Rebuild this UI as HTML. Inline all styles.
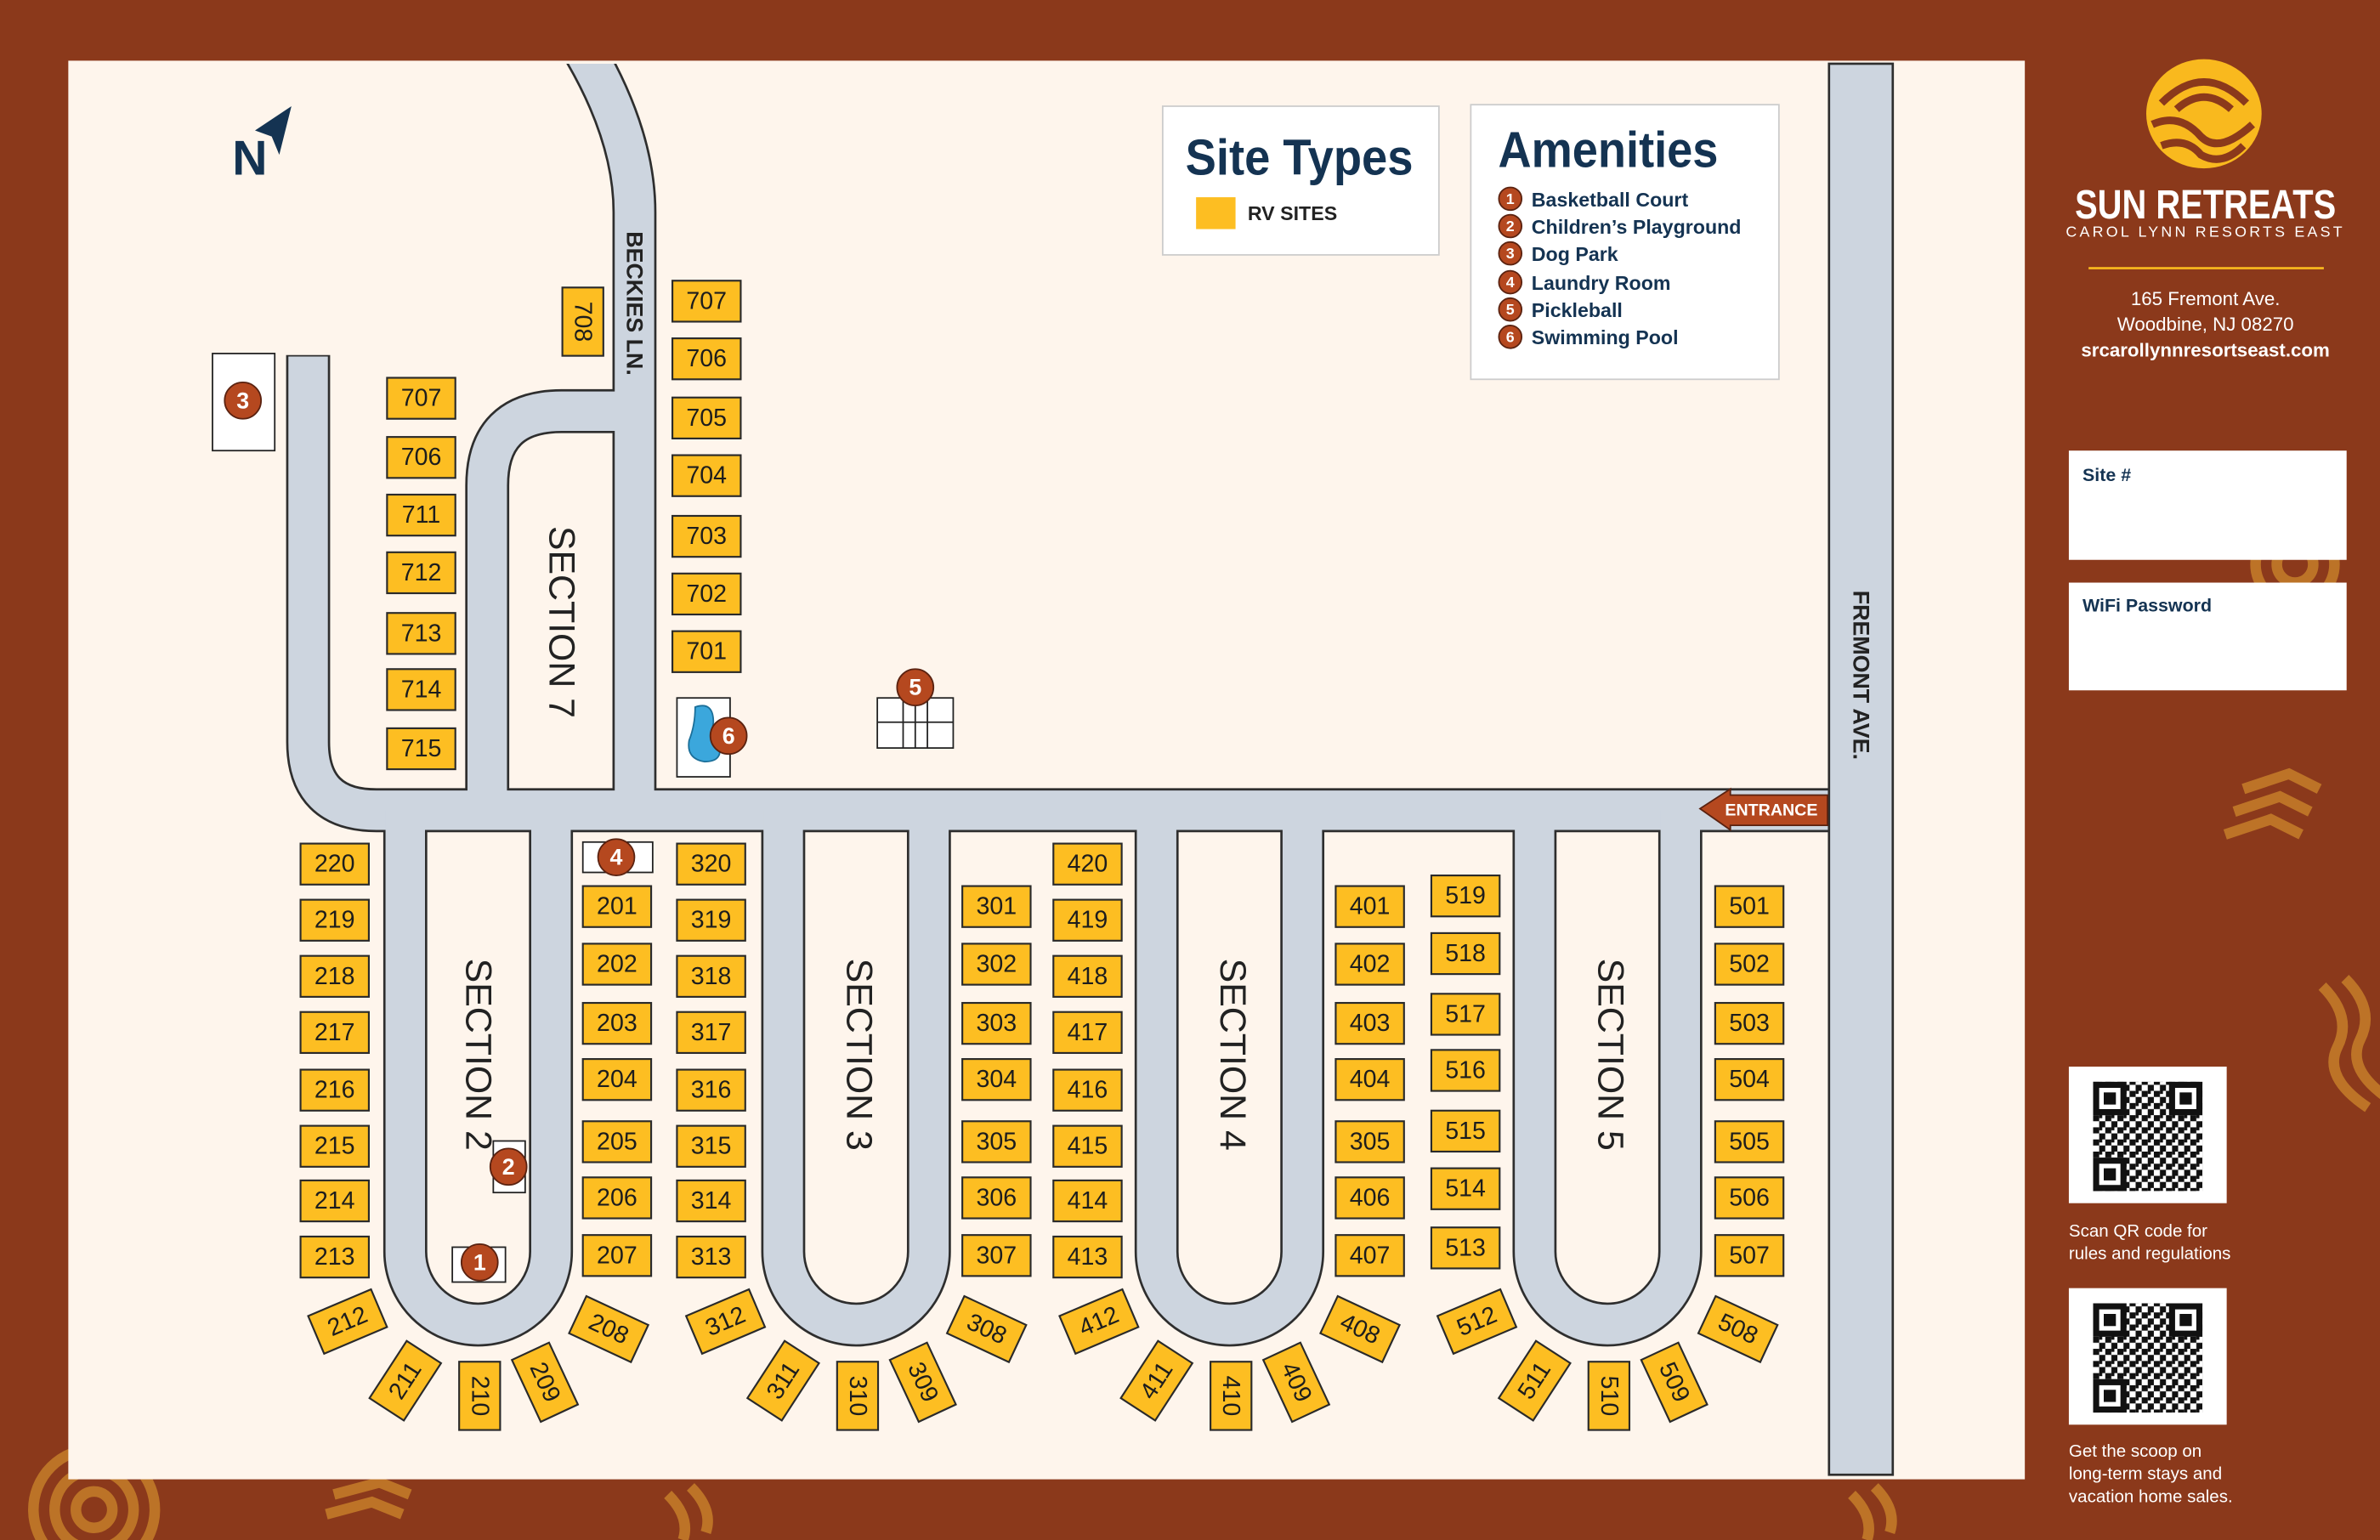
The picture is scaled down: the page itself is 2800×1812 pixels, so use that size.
<!DOCTYPE html>
<html><head><meta charset="utf-8"><style>
html,body{margin:0;padding:0;background:#8B391B;}
svg{display:block}
text{font-family:"Liberation Sans",sans-serif}
.s{fill:#FDBE22;stroke:#2a2a2a;stroke-width:1.2}
.n{font-size:16px;fill:#1d1d1d;text-anchor:middle;dominant-baseline:central}
.m{fill:#B5481F;stroke:#5a2210;stroke-width:1}
.mt{font-size:15px;font-weight:bold;fill:#fff;text-anchor:middle;dominant-baseline:central}
.sec{font-size:24px;fill:#222;text-anchor:middle;dominant-baseline:central}
.nav{fill:#143352;font-weight:bold}
.w{fill:#fff}
</style></head><body>
<svg width="2800" height="1812" viewBox="0 0 1568 1015" preserveAspectRatio="none" xmlns="http://www.w3.org/2000/svg">
<defs>
<clipPath id="mapclip"><rect x="45" y="42" width="1289" height="933"/></clipPath>
<pattern id="qr" width="8" height="8" patternUnits="userSpaceOnUse">
<rect width="8" height="8" fill="#fff"/>
<rect x="0" y="0" width="4" height="4" fill="#111"/><rect x="4" y="4" width="4" height="4" fill="#111"/><rect x="4" y="0" width="2" height="2" fill="#111"/>
</pattern>
<g id="qrcode">
<rect width="104" height="90" fill="#fff"/>
<rect x="16" y="10" width="72" height="72" fill="url(#qr)"/>
<rect x="16" y="10" width="22" height="22" fill="#111"/><rect x="20" y="14" width="14" height="14" fill="#fff"/><rect x="23" y="17" width="8" height="8" fill="#111"/>
<rect x="66" y="10" width="22" height="22" fill="#111"/><rect x="70" y="14" width="14" height="14" fill="#fff"/><rect x="73" y="17" width="8" height="8" fill="#111"/>
<rect x="16" y="60" width="22" height="22" fill="#111"/><rect x="20" y="64" width="14" height="14" fill="#fff"/><rect x="23" y="67" width="8" height="8" fill="#111"/>
</g>
</defs>
<rect width="1568" height="1015" fill="#8B391B"/>
<g fill="none" stroke="#C9822A" stroke-width="7" opacity="0.8">
<circle cx="62" cy="995" r="12"/><circle cx="62" cy="995" r="26"/><circle cx="62" cy="995" r="40"/>
<circle cx="1512" cy="372" r="12"/><circle cx="1512" cy="372" r="26"/>
<path d="M1478 520 l30 -10 l20 10 M1472 535 l30 -10 l20 10 M1466 550 l30 -10 l20 10"/>
<path d="M1530 650 q20 20 10 40 q-10 20 20 40 M1545 645 q20 20 10 40 q-10 20 20 40"/>
<path d="M220 985 l30 -8 l20 8 M215 998 l30 -8 l20 8"/>
<path d="M440 985 q15 15 10 30 M455 980 q15 15 10 30"/>
<path d="M1220 985 q15 15 10 30 M1235 980 q15 15 10 30"/>
</g>
<rect x="45" y="40" width="1289" height="935" fill="#FEF5EC"/>
<g fill="none" stroke-linejoin="round" clip-path="url(#mapclip)">
<g stroke="#2e2e2e" stroke-width="29">
<path d="M203 234 L203 489 Q203 534 248 534 L1205 534"/>
<path d="M370 10 Q418 80 418 140 L418 534"/>
<path d="M418 271 L370 271 Q321 271 321 320 L321 534"/>
<path d="M267 534 L267 825 A48 48 0 0 0 363 825 L363 534"/>
<path d="M516 534 L516 825 A48 48 0 0 0 612 825 L612 534"/>
<path d="M762 534 L762 825 A48 48 0 0 0 858 825 L858 534"/>
<path d="M1011 534 L1011 825 A48 48 0 0 0 1107 825 L1107 534"/>
</g>
<g stroke="#CDD5DF" stroke-width="26">
<path d="M203 235 L203 489 Q203 534 248 534 L1206 534"/>
<path d="M370 10 Q418 80 418 140 L418 534"/>
<path d="M418 271 L370 271 Q321 271 321 320 L321 534"/>
<path d="M267 534 L267 825 A48 48 0 0 0 363 825 L363 534"/>
<path d="M516 534 L516 825 A48 48 0 0 0 612 825 L612 534"/>
<path d="M762 534 L762 825 A48 48 0 0 0 858 825 L858 534"/>
<path d="M1011 534 L1011 825 A48 48 0 0 0 1107 825 L1107 534"/>
</g>
</g>
<rect x="1205" y="42" width="42" height="930" fill="#CDD5DF" stroke="#2e2e2e" stroke-width="1.5"/>
<text class="sec" transform="translate(315,695) rotate(90)">SECTION 2</text>
<text class="sec" transform="translate(566,695) rotate(90)">SECTION 3</text>
<text class="sec" transform="translate(812,695) rotate(90)">SECTION 4</text>
<text class="sec" transform="translate(1061,695) rotate(90)">SECTION 5</text>
<text class="sec" transform="translate(370,410) rotate(90)">SECTION 7</text>
<text transform="translate(418,200) rotate(90)" font-size="15" font-weight="bold" fill="#222" text-anchor="middle" dominant-baseline="central">BECKIES LN.</text>
<text transform="translate(1226,445) rotate(90)" font-size="15" font-weight="bold" fill="#222" text-anchor="middle" dominant-baseline="central">FREMONT AVE.</text>
<path d="M1120 533 L1140 520 L1140 524 L1204 524 L1204 544 L1140 544 L1140 547 Z" fill="#B5481F" stroke="#5a2210"/>
<text x="1167" y="534" font-size="11" font-weight="bold" fill="#fff" text-anchor="middle" dominant-baseline="central">ENTRANCE</text>
<text x="153" y="115" font-size="32" class="nav">N</text>
<path d="M168 86 L192 70 L184 102 L179 90 Z" fill="#143352"/>
<rect x="140" y="233" width="41" height="64" fill="#fff" stroke="#222"/>
<rect x="446" y="460" width="35" height="52" fill="#fff" stroke="#222"/>
<path d="M458 466 q12 -4 12 10 q-2 10 4 16 q2 10 -10 10 q-12 -2 -10 -14 q4 -10 4 -22z" fill="#3BA7DC" stroke="#1b6f99"/>
<rect x="578" y="460" width="50" height="33" fill="#fff" stroke="#222"/>
<path d="M578 476 H628 M595 460 V493 M611 460 V493 M603 460 V493" stroke="#222" fill="none"/>
<rect x="384" y="555" width="46" height="20" fill="#fff" stroke="#222"/>
<rect x="325" y="752" width="21" height="34" fill="#fff" stroke="#222"/>
<rect x="298" y="822" width="35" height="23" fill="#fff" stroke="#222"/>
<g>
<g transform="translate(198,556)"><rect class="s" width="45" height="27"/><text class="n" x="22.5" y="13.5">220</text></g>
<g transform="translate(198,593)"><rect class="s" width="45" height="27"/><text class="n" x="22.5" y="13.5">219</text></g>
<g transform="translate(198,630)"><rect class="s" width="45" height="27"/><text class="n" x="22.5" y="13.5">218</text></g>
<g transform="translate(198,667)"><rect class="s" width="45" height="27"/><text class="n" x="22.5" y="13.5">217</text></g>
<g transform="translate(198,705)"><rect class="s" width="45" height="27"/><text class="n" x="22.5" y="13.5">216</text></g>
<g transform="translate(198,742)"><rect class="s" width="45" height="27"/><text class="n" x="22.5" y="13.5">215</text></g>
<g transform="translate(198,778)"><rect class="s" width="45" height="27"/><text class="n" x="22.5" y="13.5">214</text></g>
<g transform="translate(198,815)"><rect class="s" width="45" height="27"/><text class="n" x="22.5" y="13.5">213</text></g>
<g transform="translate(384,584)"><rect class="s" width="45" height="27"/><text class="n" x="22.5" y="13.5">201</text></g>
<g transform="translate(384,622)"><rect class="s" width="45" height="27"/><text class="n" x="22.5" y="13.5">202</text></g>
<g transform="translate(384,661)"><rect class="s" width="45" height="27"/><text class="n" x="22.5" y="13.5">203</text></g>
<g transform="translate(384,698)"><rect class="s" width="45" height="27"/><text class="n" x="22.5" y="13.5">204</text></g>
<g transform="translate(384,739)"><rect class="s" width="45" height="27"/><text class="n" x="22.5" y="13.5">205</text></g>
<g transform="translate(384,776)"><rect class="s" width="45" height="27"/><text class="n" x="22.5" y="13.5">206</text></g>
<g transform="translate(384,814)"><rect class="s" width="45" height="27"/><text class="n" x="22.5" y="13.5">207</text></g>
<g transform="translate(446,556)"><rect class="s" width="45" height="27"/><text class="n" x="22.5" y="13.5">320</text></g>
<g transform="translate(446,593)"><rect class="s" width="45" height="27"/><text class="n" x="22.5" y="13.5">319</text></g>
<g transform="translate(446,630)"><rect class="s" width="45" height="27"/><text class="n" x="22.5" y="13.5">318</text></g>
<g transform="translate(446,667)"><rect class="s" width="45" height="27"/><text class="n" x="22.5" y="13.5">317</text></g>
<g transform="translate(446,705)"><rect class="s" width="45" height="27"/><text class="n" x="22.5" y="13.5">316</text></g>
<g transform="translate(446,742)"><rect class="s" width="45" height="27"/><text class="n" x="22.5" y="13.5">315</text></g>
<g transform="translate(446,778)"><rect class="s" width="45" height="27"/><text class="n" x="22.5" y="13.5">314</text></g>
<g transform="translate(446,815)"><rect class="s" width="45" height="27"/><text class="n" x="22.5" y="13.5">313</text></g>
<g transform="translate(634,584)"><rect class="s" width="45" height="27"/><text class="n" x="22.5" y="13.5">301</text></g>
<g transform="translate(634,622)"><rect class="s" width="45" height="27"/><text class="n" x="22.5" y="13.5">302</text></g>
<g transform="translate(634,661)"><rect class="s" width="45" height="27"/><text class="n" x="22.5" y="13.5">303</text></g>
<g transform="translate(634,698)"><rect class="s" width="45" height="27"/><text class="n" x="22.5" y="13.5">304</text></g>
<g transform="translate(634,739)"><rect class="s" width="45" height="27"/><text class="n" x="22.5" y="13.5">305</text></g>
<g transform="translate(634,776)"><rect class="s" width="45" height="27"/><text class="n" x="22.5" y="13.5">306</text></g>
<g transform="translate(634,814)"><rect class="s" width="45" height="27"/><text class="n" x="22.5" y="13.5">307</text></g>
<g transform="translate(694,556)"><rect class="s" width="45" height="27"/><text class="n" x="22.5" y="13.5">420</text></g>
<g transform="translate(694,593)"><rect class="s" width="45" height="27"/><text class="n" x="22.5" y="13.5">419</text></g>
<g transform="translate(694,630)"><rect class="s" width="45" height="27"/><text class="n" x="22.5" y="13.5">418</text></g>
<g transform="translate(694,667)"><rect class="s" width="45" height="27"/><text class="n" x="22.5" y="13.5">417</text></g>
<g transform="translate(694,705)"><rect class="s" width="45" height="27"/><text class="n" x="22.5" y="13.5">416</text></g>
<g transform="translate(694,742)"><rect class="s" width="45" height="27"/><text class="n" x="22.5" y="13.5">415</text></g>
<g transform="translate(694,778)"><rect class="s" width="45" height="27"/><text class="n" x="22.5" y="13.5">414</text></g>
<g transform="translate(694,815)"><rect class="s" width="45" height="27"/><text class="n" x="22.5" y="13.5">413</text></g>
<g transform="translate(880,584)"><rect class="s" width="45" height="27"/><text class="n" x="22.5" y="13.5">401</text></g>
<g transform="translate(880,622)"><rect class="s" width="45" height="27"/><text class="n" x="22.5" y="13.5">402</text></g>
<g transform="translate(880,661)"><rect class="s" width="45" height="27"/><text class="n" x="22.5" y="13.5">403</text></g>
<g transform="translate(880,698)"><rect class="s" width="45" height="27"/><text class="n" x="22.5" y="13.5">404</text></g>
<g transform="translate(880,739)"><rect class="s" width="45" height="27"/><text class="n" x="22.5" y="13.5">305</text></g>
<g transform="translate(880,776)"><rect class="s" width="45" height="27"/><text class="n" x="22.5" y="13.5">406</text></g>
<g transform="translate(880,814)"><rect class="s" width="45" height="27"/><text class="n" x="22.5" y="13.5">407</text></g>
<g transform="translate(943,577)"><rect class="s" width="45" height="27"/><text class="n" x="22.5" y="13.5">519</text></g>
<g transform="translate(943,615)"><rect class="s" width="45" height="27"/><text class="n" x="22.5" y="13.5">518</text></g>
<g transform="translate(943,655)"><rect class="s" width="45" height="27"/><text class="n" x="22.5" y="13.5">517</text></g>
<g transform="translate(943,692)"><rect class="s" width="45" height="27"/><text class="n" x="22.5" y="13.5">516</text></g>
<g transform="translate(943,732)"><rect class="s" width="45" height="27"/><text class="n" x="22.5" y="13.5">515</text></g>
<g transform="translate(943,770)"><rect class="s" width="45" height="27"/><text class="n" x="22.5" y="13.5">514</text></g>
<g transform="translate(943,809)"><rect class="s" width="45" height="27"/><text class="n" x="22.5" y="13.5">513</text></g>
<g transform="translate(1130,584)"><rect class="s" width="45" height="27"/><text class="n" x="22.5" y="13.5">501</text></g>
<g transform="translate(1130,622)"><rect class="s" width="45" height="27"/><text class="n" x="22.5" y="13.5">502</text></g>
<g transform="translate(1130,661)"><rect class="s" width="45" height="27"/><text class="n" x="22.5" y="13.5">503</text></g>
<g transform="translate(1130,698)"><rect class="s" width="45" height="27"/><text class="n" x="22.5" y="13.5">504</text></g>
<g transform="translate(1130,739)"><rect class="s" width="45" height="27"/><text class="n" x="22.5" y="13.5">505</text></g>
<g transform="translate(1130,776)"><rect class="s" width="45" height="27"/><text class="n" x="22.5" y="13.5">506</text></g>
<g transform="translate(1130,814)"><rect class="s" width="45" height="27"/><text class="n" x="22.5" y="13.5">507</text></g>
<g transform="translate(443,185)"><rect class="s" width="45" height="27"/><text class="n" x="22.5" y="13.5">707</text></g>
<g transform="translate(443,223)"><rect class="s" width="45" height="27"/><text class="n" x="22.5" y="13.5">706</text></g>
<g transform="translate(443,262)"><rect class="s" width="45" height="27"/><text class="n" x="22.5" y="13.5">705</text></g>
<g transform="translate(443,300)"><rect class="s" width="45" height="27"/><text class="n" x="22.5" y="13.5">704</text></g>
<g transform="translate(443,340)"><rect class="s" width="45" height="27"/><text class="n" x="22.5" y="13.5">703</text></g>
<g transform="translate(443,378)"><rect class="s" width="45" height="27"/><text class="n" x="22.5" y="13.5">702</text></g>
<g transform="translate(443,416)"><rect class="s" width="45" height="27"/><text class="n" x="22.5" y="13.5">701</text></g>
<g transform="translate(255,249)"><rect class="s" width="45" height="27"/><text class="n" x="22.5" y="13.5">707</text></g>
<g transform="translate(255,288)"><rect class="s" width="45" height="27"/><text class="n" x="22.5" y="13.5">706</text></g>
<g transform="translate(255,326)"><rect class="s" width="45" height="27"/><text class="n" x="22.5" y="13.5">711</text></g>
<g transform="translate(255,364)"><rect class="s" width="45" height="27"/><text class="n" x="22.5" y="13.5">712</text></g>
<g transform="translate(255,404)"><rect class="s" width="45" height="27"/><text class="n" x="22.5" y="13.5">713</text></g>
<g transform="translate(255,441)"><rect class="s" width="45" height="27"/><text class="n" x="22.5" y="13.5">714</text></g>
<g transform="translate(255,480)"><rect class="s" width="45" height="27"/><text class="n" x="22.5" y="13.5">715</text></g>
<g transform="translate(384,212) rotate(90)"><rect class="s" x="-22.5" y="-13.5" width="45" height="27"/><text class="n">708</text></g>
<g transform="translate(229,871) rotate(-23)"><rect class="s" x="-22.5" y="-13.5" width="45" height="27"/><text class="n">212</text></g>
<g transform="translate(267,910) rotate(-57)"><rect class="s" x="-22.5" y="-13.5" width="45" height="27"/><text class="n">211</text></g>
<g transform="translate(316,920) rotate(90)"><rect class="s" x="-22.5" y="-13.5" width="45" height="27"/><text class="n">210</text></g>
<g transform="translate(359,911) rotate(65)"><rect class="s" x="-22.5" y="-13.5" width="45" height="27"/><text class="n">209</text></g>
<g transform="translate(401,876) rotate(25)"><rect class="s" x="-22.5" y="-13.5" width="45" height="27"/><text class="n">208</text></g>
<g transform="translate(478,871) rotate(-23)"><rect class="s" x="-22.5" y="-13.5" width="45" height="27"/><text class="n">312</text></g>
<g transform="translate(516,910) rotate(-57)"><rect class="s" x="-22.5" y="-13.5" width="45" height="27"/><text class="n">311</text></g>
<g transform="translate(565,920) rotate(90)"><rect class="s" x="-22.5" y="-13.5" width="45" height="27"/><text class="n">310</text></g>
<g transform="translate(608,911) rotate(65)"><rect class="s" x="-22.5" y="-13.5" width="45" height="27"/><text class="n">309</text></g>
<g transform="translate(650,876) rotate(25)"><rect class="s" x="-22.5" y="-13.5" width="45" height="27"/><text class="n">308</text></g>
<g transform="translate(724,871) rotate(-23)"><rect class="s" x="-22.5" y="-13.5" width="45" height="27"/><text class="n">412</text></g>
<g transform="translate(762,910) rotate(-57)"><rect class="s" x="-22.5" y="-13.5" width="45" height="27"/><text class="n">411</text></g>
<g transform="translate(811,920) rotate(90)"><rect class="s" x="-22.5" y="-13.5" width="45" height="27"/><text class="n">410</text></g>
<g transform="translate(854,911) rotate(65)"><rect class="s" x="-22.5" y="-13.5" width="45" height="27"/><text class="n">409</text></g>
<g transform="translate(896,876) rotate(25)"><rect class="s" x="-22.5" y="-13.5" width="45" height="27"/><text class="n">408</text></g>
<g transform="translate(973,871) rotate(-23)"><rect class="s" x="-22.5" y="-13.5" width="45" height="27"/><text class="n">512</text></g>
<g transform="translate(1011,910) rotate(-57)"><rect class="s" x="-22.5" y="-13.5" width="45" height="27"/><text class="n">511</text></g>
<g transform="translate(1060,920) rotate(90)"><rect class="s" x="-22.5" y="-13.5" width="45" height="27"/><text class="n">510</text></g>
<g transform="translate(1103,911) rotate(65)"><rect class="s" x="-22.5" y="-13.5" width="45" height="27"/><text class="n">509</text></g>
<g transform="translate(1145,876) rotate(25)"><rect class="s" x="-22.5" y="-13.5" width="45" height="27"/><text class="n">508</text></g>
</g>
<circle class="m" cx="160" cy="264" r="12"/><text class="mt" x="160" y="264">3</text>
<circle class="m" cx="480" cy="485" r="12"/><text class="mt" x="480" y="485">6</text>
<circle class="m" cx="603" cy="453" r="12"/><text class="mt" x="603" y="453">5</text>
<circle class="m" cx="406" cy="565" r="12"/><text class="mt" x="406" y="565">4</text>
<circle class="m" cx="335" cy="769" r="12"/><text class="mt" x="335" y="769">2</text>
<circle class="m" cx="316" cy="832" r="12"/><text class="mt" x="316" y="832">1</text>
<rect x="766" y="70" width="182" height="98" fill="#fff" stroke="#ccc"/>
<text x="781" y="115" font-size="33" class="nav" textLength="150" lengthAdjust="spacingAndGlyphs">Site Types</text>
<rect x="788" y="130" width="26" height="21" fill="#FDBE22"/>
<text x="822" y="145" font-size="13" font-weight="bold" fill="#222">RV SITES</text>
<rect x="969" y="69" width="203" height="181" fill="#fff" stroke="#ccc"/>
<text x="987" y="110" font-size="33" class="nav" textLength="145" lengthAdjust="spacingAndGlyphs">Amenities</text>
<g font-size="13" class="nav">
<circle class="m" cx="995" cy="131" r="7.5"/><text x="995" y="131" font-size="10" fill="#fff" text-anchor="middle" dominant-baseline="central">1</text><text x="1009" y="136">Basketball Court</text>
<circle class="m" cx="995" cy="149" r="7.5"/><text x="995" y="149" font-size="10" fill="#fff" text-anchor="middle" dominant-baseline="central">2</text><text x="1009" y="154">Children’s Playground</text>
<circle class="m" cx="995" cy="167" r="7.5"/><text x="995" y="167" font-size="10" fill="#fff" text-anchor="middle" dominant-baseline="central">3</text><text x="1009" y="172">Dog Park</text>
<circle class="m" cx="995" cy="186" r="7.5"/><text x="995" y="186" font-size="10" fill="#fff" text-anchor="middle" dominant-baseline="central">4</text><text x="1009" y="191">Laundry Room</text>
<circle class="m" cx="995" cy="204" r="7.5"/><text x="995" y="204" font-size="10" fill="#fff" text-anchor="middle" dominant-baseline="central">5</text><text x="1009" y="209">Pickleball</text>
<circle class="m" cx="995" cy="222" r="7.5"/><text x="995" y="222" font-size="10" fill="#fff" text-anchor="middle" dominant-baseline="central">6</text><text x="1009" y="227">Swimming Pool</text>
</g>
<ellipse cx="1452" cy="75" rx="38" ry="36" fill="#F9B91E"/>
<g fill="none" stroke="#8B391B" stroke-width="5">
<path d="M1424 68 q28 -28 56 0"/><path d="M1434 72 q18 -16 36 0"/>
<path d="M1418 82 q18 -8 32 8 q12 12 34 -8"/><path d="M1424 96 q16 -6 26 6 q14 8 28 -6"/>
</g>
<text x="1453" y="144" font-size="27" font-weight="bold" fill="#fff" text-anchor="middle" textLength="172" lengthAdjust="spacingAndGlyphs">SUN RETREATS</text>
<text x="1453" y="156" font-size="10" fill="#fff" text-anchor="middle" letter-spacing="1.8">CAROL LYNN RESORTS EAST</text>
<rect x="1376" y="176" width="155" height="1.5" fill="#F9B91E"/>
<text x="1453" y="201" font-size="12.5" fill="#fff" text-anchor="middle">165 Fremont Ave.</text>
<text x="1453" y="218" font-size="12.5" fill="#fff" text-anchor="middle">Woodbine, NJ 08270</text>
<text x="1453" y="235" font-size="12.5" font-weight="bold" fill="#fff" text-anchor="middle">srcarollynnresortseast.com</text>
<rect x="1363" y="297" width="183" height="72" fill="#fff"/>
<text x="1372" y="317" font-size="12" class="nav">Site #</text>
<rect x="1363" y="384" width="183" height="71" fill="#fff"/>
<text x="1372" y="403" font-size="12" class="nav">WiFi Password</text>
<use href="#qrcode" x="1363" y="703"/>
<use href="#qrcode" x="1363" y="849"/>
<g font-size="11.5" fill="#fff">
<text x="1363" y="815">Scan QR code for</text>
<text x="1363" y="830">rules and regulations</text>
<text x="1363" y="960">Get the scoop on</text>
<text x="1363" y="975">long-term stays and</text>
<text x="1363" y="990">vacation home sales.</text>
</g>
</svg>
</body></html>
